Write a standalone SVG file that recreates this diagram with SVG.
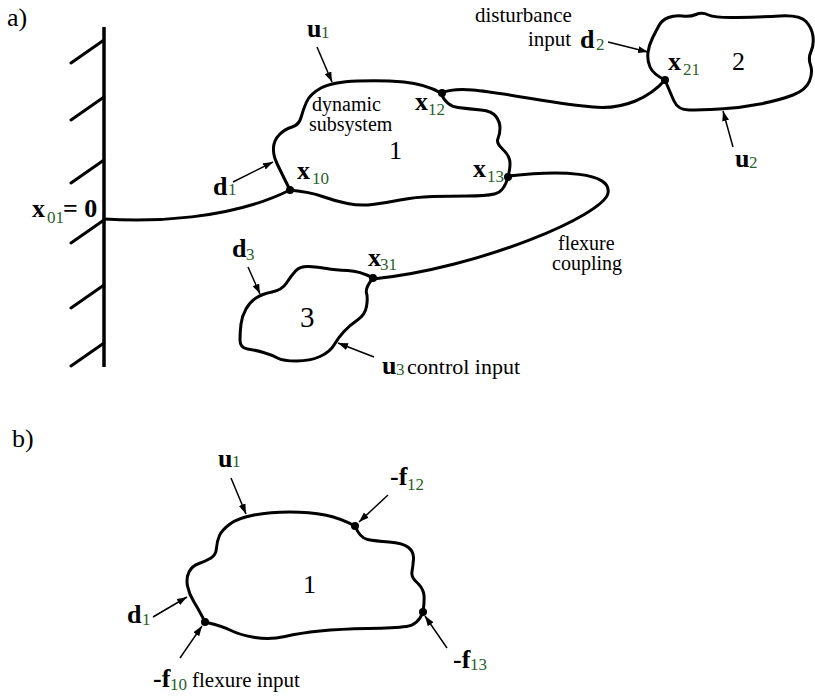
<svg xmlns="http://www.w3.org/2000/svg" width="815" height="700" viewBox="0 0 815 700" font-family="'Liberation Serif', 'DejaVu Serif', serif">
<style>
text, tspan{font-family:'Liberation Serif','DejaVu Serif',serif}
text{fill:#000}
.o{fill:none;stroke:#000;stroke-width:3;stroke-linejoin:round;stroke-linecap:round}
.c{fill:none;stroke:#000;stroke-width:3;stroke-linecap:round}
.a{fill:none;stroke:#000;stroke-width:1.5;marker-end:url(#ah)}
.b{font-weight:bold;font-size:26px}
.s{fill:#2a5e2a;font-size:17px}
.t{font-size:21px}
.t2{font-size:20px}
.n{font-size:26px}
.dot{fill:#000}
</style>
<defs>
<marker id="ah" markerUnits="userSpaceOnUse" markerWidth="11" markerHeight="8" refX="10" refY="3.5" orient="auto">
<path d="M0,0 L10,3.5 L0,7 z" fill="#000"/>
</marker>
</defs>

<text class="n" x="7" y="26">a)</text>
<text class="n" x="12" y="447">b)</text>

<g id="wall">
<line class="c" x1="104" y1="27" x2="104" y2="367" style="stroke-width:3.5;stroke-linecap:butt"/>
<path class="c" d="M104,40 L71,63 M104,97 L71,120 M104,160 L71,183 M104,220 L71,243 M104,285 L71,308 M104,343 L71,366"/>
<text x="32" y="217"><tspan class="b">x</tspan><tspan class="s" x="47" y="223">01</tspan><tspan class="b" x="63" y="217">= 0</tspan></text>
</g>

<g id="connectors">
<path class="c" d="M104,219 C150,222 230,220 290,190"/>
<path class="c" d="M442,93 C465,82 520,100 593,107 C625,110 650,97 665,80"/>
<path class="c" d="M509,176 C560,170 612,172 608,193 C604,215 480,268 373,279"/>
</g>

<g id="subsystem1">
<path class="o" d="M290,190 Q281,172 277,163.5 Q273,155 273.5,147.5 Q274,140 279.5,134.5 Q285,129 292,127 Q299,125 301,117.5 Q303,110 306.5,102 Q310,94 321,88 Q332,82 357.5,81 Q383,80 404,82 Q425,84 441,93 Q446,106 458,107.5 Q470,109 481,110 Q492,111 496,116.5 Q500,122 500,128 Q500,134 498,138.5 Q496,143 502,148.5 Q508,154 509.5,159.5 Q511,165 508,177 Q504,192 494.5,194 Q485,196 467.5,196 Q450,196 432.5,196.5 Q415,197 400,200 Q385,203 372.5,204.5 Q360,206 347.5,203.5 Q335,201 322.5,196.5 Q310,192 290,190 Z"/>
<circle class="dot" cx="290" cy="190" r="4"/>
<circle class="dot" cx="442" cy="93" r="4"/>
<circle class="dot" cx="508" cy="177" r="4"/>
<text class="t2" x="312" y="111">dynamic</text>
<text class="t2" x="309" y="131">subsystem</text>
<text class="n" x="389" y="159">1</text>
<text x="297" y="179"><tspan class="b">x</tspan><tspan class="s" x="312" y="184">10</tspan></text>
<text x="415" y="110"><tspan class="b">x</tspan><tspan class="s" x="428" y="115">12</tspan></text>
<text x="473" y="177"><tspan class="b">x</tspan><tspan class="s" x="487" y="182">13</tspan></text>
<line class="a" x1="317" y1="47" x2="332" y2="82"/>
<text x="307" y="37"><tspan class="b">u</tspan><tspan class="s" x="321" y="38">1</tspan></text>
<line class="a" x1="233" y1="182" x2="273" y2="162"/>
<text x="213" y="195"><tspan class="b">d</tspan><tspan class="s" x="228" y="195">1</tspan></text>
</g>

<g id="subsystem2">
<path class="o" d="M665,80 Q653,74 650,67 Q647,60 648,52.5 Q649,45 652.5,38 Q656,31 659,25.5 Q662,20 668.5,17.5 Q675,15 682.5,16 Q690,17 696,14.5 Q702,12 708.5,15 Q715,18 737.5,17.5 Q760,17 780,16 Q800,15 806,21.5 Q812,28 813,36.5 Q814,45 811,51.5 Q808,58 810.5,65 Q813,72 809.5,81 Q806,90 793,95 Q780,100 760,104 Q740,108 720,109 Q700,110 689,110 Q678,110 674,101 Q670,92 665,80 Z"/>
<circle class="dot" cx="665" cy="80" r="4"/>
<text x="668" y="70"><tspan class="b">x</tspan><tspan class="s" x="683" y="75">21</tspan></text>
<text class="n" x="732" y="70">2</text>
<text class="t" x="475" y="22">disturbance</text>
<text x="528" y="46"><tspan class="t">input </tspan><tspan class="b" x="580" y="48">d</tspan><tspan class="s" x="596" y="50">2</tspan></text>
<line class="a" x1="608" y1="42" x2="648" y2="52"/>
<line class="a" x1="733" y1="147" x2="723" y2="111"/>
<text x="735" y="167"><tspan class="b">u</tspan><tspan class="s" x="749" y="168">2</tspan></text>
</g>

<g id="subsystem3">
<path class="o" d="M373,278 Q360,271 347.5,270.5 Q335,270 326.5,268.5 Q318,267 309,266.5 Q300,266 295.5,271 Q291,276 286.5,283 Q282,290 272,292 Q262,294 256,298 Q250,302 246,309 Q242,316 241,324 Q240,332 240,340 Q240,348 247.5,349 Q255,350 263.5,352.5 Q272,355 277.5,358 Q283,361 296.5,361 Q310,361 320,356.5 Q330,352 334,345 Q338,338 344,331.5 Q350,325 357.5,320 Q365,315 366.5,306.5 Q368,298 366.5,293 Q365,288 373,278 Z"/>
<circle class="dot" cx="373" cy="278" r="4"/>
<text x="368" y="266"><tspan class="b">x</tspan><tspan class="s" x="380" y="270">31</tspan></text>
<text class="n" x="300" y="327" style="font-size:29px">3</text>
<line class="a" x1="248" y1="267" x2="260" y2="294"/>
<text x="232" y="257"><tspan class="b">d</tspan><tspan class="s" x="246" y="260">3</tspan></text>
<line class="a" x1="374" y1="357" x2="338" y2="343"/>
<text x="382" y="374"><tspan class="b">u</tspan><tspan class="s" x="396" y="375">3</tspan><tspan class="t" x="407" y="374" style="font-size:22px">control input</tspan></text>
<text class="t2" x="558" y="250">flexure</text>
<text class="t2" x="552" y="270">coupling</text>
</g>

<g id="subsystem1b">
<path class="o" d="M205,622 Q199,610 194,602 Q189,594 187.5,586 Q186,578 189,572 Q192,566 199,563.5 Q206,561 211,558 Q216,555 216.5,548 Q217,541 219.5,535.5 Q222,530 230,524 Q238,518 254,515 Q270,512 290,512 Q310,512 325,515 Q340,518 355,526 Q360,538 367.5,539.5 Q375,541 389,542 Q403,543 408.5,547.5 Q414,552 413.5,559 Q413,566 412,571.5 Q411,577 416.5,582 Q422,587 423.5,592.5 Q425,598 423,612 Q418,625 406.5,626.5 Q395,628 367.5,628.5 Q340,629 320,631 Q300,633 285,636.5 Q270,640 255,637.5 Q240,635 231,630.5 Q222,626 205,622 Z"/>
<circle class="dot" cx="205" cy="622" r="4"/>
<circle class="dot" cx="355" cy="526" r="4"/>
<circle class="dot" cx="423" cy="612" r="4"/>
<text class="n" x="303" y="593">1</text>
<line class="a" x1="231" y1="478" x2="246" y2="514"/>
<text x="218" y="467"><tspan class="b">u</tspan><tspan class="s" x="232" y="467">1</tspan></text>
<line class="a" x1="388" y1="495" x2="359" y2="522"/>
<text x="390" y="485"><tspan class="b">-f</tspan><tspan class="s" x="407" y="490">12</tspan></text>
<line class="a" x1="447" y1="648" x2="425" y2="616"/>
<text x="453" y="668"><tspan class="b">-f</tspan><tspan class="s" x="470" y="670">13</tspan></text>
<line class="a" x1="153" y1="617" x2="187" y2="597"/>
<text x="127" y="623"><tspan class="b">d</tspan><tspan class="s" x="142" y="625">1</tspan></text>
<line class="a" x1="180" y1="658" x2="202" y2="626"/>
<text x="153" y="687"><tspan class="b">-f</tspan><tspan class="s" x="170" y="690">10</tspan><tspan class="t" x="192" y="687">flexure input</tspan></text>
</g>
</svg>
